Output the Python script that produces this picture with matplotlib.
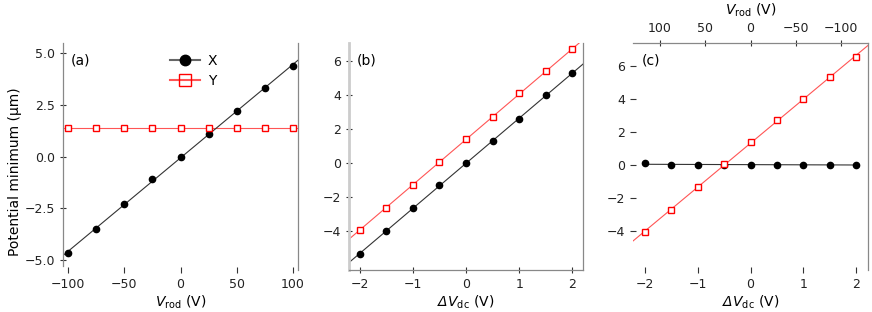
import numpy as np
import matplotlib
matplotlib.use("Agg")
import matplotlib.pyplot as plt

plt.rcParams['font.family'] = ['DejaVu Sans']
plt.rcParams['mathtext.fontset'] = 'custom'
plt.rcParams['mathtext.rm'] = 'DejaVu Sans'
plt.rcParams['mathtext.it'] = 'DejaVu Sans:italic'
plt.rcParams['mathtext.bf'] = 'DejaVu Sans:bold'
plt.rcParams['mathtext.sf'] = 'DejaVu Sans'
plt.rcParams['mathtext.cal'] = 'DejaVu Sans:italic'

# ---- data ----
vrod = [-100, -75, -50, -25, 0, 25, 50, 75, 100]
a_x = [-4.7, -3.5, -2.3, -1.1, 0.0, 1.1, 2.2, 3.3, 4.4]
a_y = [1.4, 1.4, 1.4, 1.4, 1.4, 1.4, 1.4, 1.4, 1.4]

dvdc = [-2.0, -1.5, -1.0, -0.5, 0.0, 0.5, 1.0, 1.5, 2.0]
b_x = [-5.3, -4.0, -2.6, -1.3, 0.0, 1.3, 2.6, 4.0, 5.3]
b_y = [-3.9, -2.6, -1.3, 0.1, 1.4, 2.7, 4.1, 5.4, 6.7]

c_x = [0.1, 0.02, 0.02, 0.02, 0.02, 0.02, 0.02, 0.02, 0.02]
c_y = [-4.05, -2.7, -1.35, 0.05, 1.4, 2.7, 4.0, 5.3, 6.55]

a_yticks = [-5.0, -2.5, 0.0, 2.5, 5.0]
a_xticks = [-100, -50, 0, 50, 100]
bc_yticks = [-4, -2, 0, 2, 4, 6]
bc_xticks = [-2, -1, 0, 1, 2]
c_topticks = [100, 50, 0, -50, -100]
vrod_per_vdc = -58.3

BLACK = 'black'
LINE_BLACK = '#333333'
RED = '#ff0000'
LINE_RED = '#ff5555'
SPINE = '#888888'

fig = plt.figure(figsize=(8.72, 3.12), dpi=100)
W, H = 872, 312

def add_ax(l, r, t=43, b=270):
    return fig.add_axes([l / W, 1 - b / H, (r - l) / W, (b - t) / H])

axa = add_ax(63, 298)
axb = add_ax(349, 583)
axc = add_ax(633, 868)

def fitline(ax, x, y, lo, hi, color, lw=0.8):
    p = np.polyfit(x, y, 1)
    xx = np.array([lo, hi])
    ax.plot(xx, np.polyval(p, xx), color=color, lw=lw, zorder=1)

def markers(ax, x, y):
    ax.plot(x, y, ls='none', marker='o', ms=4.5, color=BLACK, zorder=3)

def squares(ax, x, y):
    ax.plot(x, y, ls='none', marker='s', ms=5, mfc='white', mec=RED, mew=1.0, zorder=3)

tick_kw = dict(direction='inout', length=4, width=0.8, colors='#333333', labelsize=9, labelcolor='#222222')
DV_LABEL = r'$\mathcal{\Delta}V_\mathrm{dc}$ (V)'
VR_LABEL = r'$V_\mathrm{rod}$ (V)'

# ---- (a) ----
xl = (-104.4, 104.4)
fitline(axa, vrod, a_y, *xl, LINE_RED)
fitline(axa, vrod, a_x, *xl, LINE_BLACK)
markers(axa, vrod, a_x)
squares(axa, vrod, a_y)
axa.set_xlim(*xl)
axa.set_ylim(-5.5, 5.5)
axa.set_xticks(a_xticks)
axa.set_yticks(a_yticks)
axa.set_yticklabels([f"{v:.1f}".replace('-', '\u2212') for v in a_yticks])
axa.set_xlabel(VR_LABEL, fontsize=10, labelpad=2)
axa.set_ylabel('Potential minimum (\u03bcm)', fontsize=10, labelpad=3)
axa.yaxis.set_label_coords(-0.175, 0.435)
for s in ['top', 'bottom']:
    axa.spines[s].set_visible(False)
for s in ['left', 'right']:
    axa.spines[s].set_color(SPINE)
    axa.spines[s].set_linewidth(0.9)
axa.spines['left'].set_bounds(-5.3, 5.5)
axa.tick_params(**tick_kw)
axa.text(0.034, 0.925, '(a)', transform=axa.transAxes, fontsize=10, va='center', ha='left')

# legend proxies
hx, = axa.plot([], [], color='#666666', lw=1.5, marker='o', ms=7.5, mfc=BLACK, mec=BLACK)
hy, = axa.plot([], [], color=LINE_RED, lw=1.5, marker='s', ms=8, mfc='none', mec=RED, mew=1.0)
axa.legend([hx, hy], ['X', 'Y'], loc='upper left', bbox_to_anchor=(0.41, 1.0),
           frameon=False, fontsize=10, handlelength=2.1, handletextpad=0.6,
           labelspacing=0.4, borderpad=0.3)

# ---- (b) ----
xl = (-2.2, 2.2)
fitline(axb, dvdc, b_y, *xl, LINE_RED)
fitline(axb, dvdc, b_x, *xl, LINE_BLACK)
markers(axb, dvdc, b_x)
squares(axb, dvdc, b_y)
axb.set_xlim(*xl)
axb.set_ylim(-6.26, 7.06)
axb.set_xticks(bc_xticks)
axb.set_yticks(bc_yticks)
axb.set_xlabel(DV_LABEL, fontsize=10, labelpad=2)
axb.spines['top'].set_visible(False)
axb.spines['left'].set_color('#cccccc')
axb.spines['left'].set_linewidth(2.0)
for s in ['bottom', 'right']:
    axb.spines[s].set_color(SPINE)
    axb.spines[s].set_linewidth(0.9)
axb.tick_params(**tick_kw)
axb.text(0.033, 0.925, '(b)', transform=axb.transAxes, fontsize=10, va='center', ha='left')

# ---- (c) ----
xl = (-2.22, 2.22)
fitline(axc, dvdc, c_y, *xl, LINE_RED)
fitline(axc, dvdc, c_x, min(dvdc), max(dvdc), LINE_BLACK)
markers(axc, dvdc, c_x)
squares(axc, dvdc, c_y)
axc.set_xlim(*xl)
axc.set_ylim(-6.33, 7.37)
axc.set_xticks(bc_xticks)
axc.set_yticks(bc_yticks)
axc.set_xlabel(DV_LABEL, fontsize=10, labelpad=2)
for s in ['left', 'bottom', 'top']:
    axc.spines[s].set_visible(False)
axc.spines['right'].set_color(SPINE)
axc.spines['right'].set_linewidth(0.9)
axc.tick_params(**tick_kw)
axc.text(0.037, 0.925, '(c)', transform=axc.transAxes, fontsize=10, va='center', ha='left')

sec = axc.secondary_xaxis('top', functions=(lambda x: vrod_per_vdc * x,
                                            lambda v: v / vrod_per_vdc))
sec.set_xticks(c_topticks)
sec.spines['top'].set_color(SPINE)
sec.spines['top'].set_linewidth(0.9)
sec.tick_params(**tick_kw)
sec.tick_params(axis='x', pad=4)
sec.set_xlabel(VR_LABEL, fontsize=10, labelpad=5)

fig.savefig('out.png', dpi=100)
